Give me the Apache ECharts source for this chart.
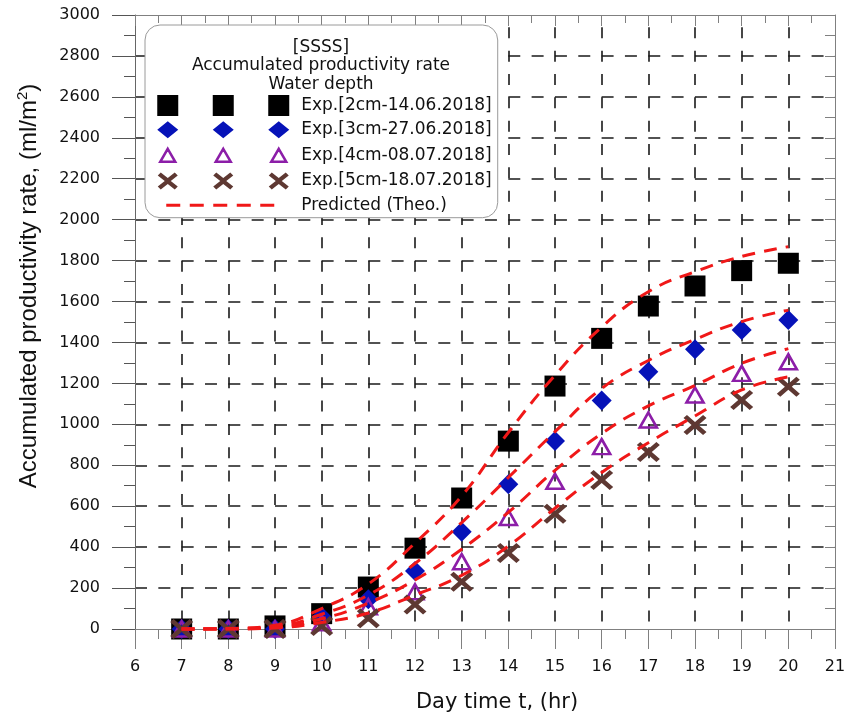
<!DOCTYPE html>
<html>
<head>
<meta charset="utf-8">
<title>Accumulated productivity rate</title>
<script src="https://cdn.jsdelivr.net/npm/echarts@6/dist/echarts.min.js"></script>
<style>
  html, body { margin: 0; padding: 0; background: #fff; }
  #chart { width: 844px; height: 719px; }
</style>
</head>
<body>
<div id="chart"></div>
<script>
var hours = [7, 8, 9, 10, 11, 12, 13, 14, 15, 16, 17, 18, 19, 20];

// measured points
var exp2cm = [0, 0, 15, 75, 205, 395, 640, 918, 1187, 1420, 1578, 1676, 1751, 1787];
var exp3cm = [0, 0, 0, 60, 145, 283, 475, 707, 918, 1116, 1257, 1367, 1461, 1510];
var exp4cm = [0, 0, 0, 30, 109, 182, 329, 545, 722, 891, 1021, 1143, 1249, 1306];
var exp5cm = [0, 0, 0, 15, 52, 120, 231, 371, 563, 728, 865, 997, 1119, 1184];

// predicted (theo.) curves
var theo2cm = [0, 3, 18, 100, 220, 420, 650, 960, 1240, 1475, 1648, 1746, 1820, 1868];
var theo3cm = [0, 2, 12, 72, 166, 320, 520, 740, 964, 1175, 1312, 1415, 1502, 1558];
var theo4cm = [0, 1, 8, 50, 127, 240, 390, 570, 775, 955, 1090, 1190, 1298, 1370];
var theo5cm = [0, 0, 5, 32, 78, 166, 262, 405, 590, 765, 910, 1041, 1168, 1232];

var xTicks = { min: 6, max: 21, step: 1 };
var yTicks = { min: 0, max: 3000, step: 200 };

var legendNames = [
  'Exp.[2cm-14.06.2018]',
  'Exp.[3cm-27.06.2018]',
  'Exp.[4cm-08.07.2018]',
  'Exp.[5cm-18.07.2018]',
  'Predicted (Theo.)'
];
var legendTitle = '[SSSS]\nAccumulated productivity rate\nWater depth';
var xName = 'Day time t, (hr)';

(function () {
  var FONT = 'DejaVu Sans';
  var RED = '#f01818';
  var BLUE = '#0612b8';
  var PURPLE = '#8c1ea8';
  var BROWN = '#5e3832';
  var AXIS = '#808080';
  var X_SYMBOL = 'path://M0,3L3,0L10,7L17,0L20,3L13,10L20,17L17,20L10,13L3,20L0,17L7,10Z';

  // legend icons: three markers in a 139x21 box
  var ICON_W = 139, ICON_H = 21;
  var CENTERS = [10.5, 66, 121.5];
  var FRAME = ' M0,0 M' + ICON_W + ',' + ICON_H;

  function iconOf(shape) {
    return 'path://' + CENTERS.map(shape).join(' ') + FRAME;
  }
  function squareAt(cx) {
    return 'M' + (cx - 10.5) + ',0H' + (cx + 10.5) + 'V21H' + (cx - 10.5) + 'Z';
  }
  function diamondAt(cx) {
    return 'M' + cx + ',2L' + (cx + 10.5) + ',10.5L' + cx + ',19L' + (cx - 10.5) + ',10.5Z';
  }
  function triangleAt(cx) {
    return 'M' + cx + ',4L' + (cx + 7.5) + ',17L' + (cx - 7.5) + ',17Z';
  }
  function crossAt(cx) {
    var x0 = cx - 10, y0 = 2, w = 20, h = 17, t = 3;
    var pts = [[0, t], [t, 0], [w / 2, h / 2 - t], [w - t, 0], [w, t], [w / 2 + t, h / 2],
      [w, h - t], [w - t, h], [w / 2, h / 2 + t], [t, h], [0, h - t], [w / 2 - t, h / 2]];
    return 'M' + pts.map(function (p) { return (x0 + p[0]) + ',' + (y0 + p[1]); }).join('L') + 'Z';
  }
  var dashIcon = 'path://' + [9, 32.5, 56, 79.5, 103].map(function (x) {
    return 'M' + x + ',9H' + (x + 14) + 'V12H' + x + 'Z';
  }).join(' ') + FRAME;

  function pairs(values) {
    return hours.map(function (h, i) { return [h, values[i]]; });
  }

  function expSeries(name, values, symbol, size, itemStyle) {
    itemStyle.opacity = 1;
    return {
      name: name, type: 'scatter', data: pairs(values),
      symbol: symbol, symbolSize: size, itemStyle: itemStyle, z: 3,
      emphasis: { disabled: true }
    };
  }

  function theoSeries(values) {
    return {
      name: legendNames[4], type: 'line', data: pairs(values),
      smooth: 0.45, showSymbol: false, symbol: 'none', clip: false, z: 5,
      itemStyle: { color: RED },
      lineStyle: { color: RED, width: 3, type: [13, 9] },
      emphasis: { disabled: true }
    };
  }

  var dashedGrid = { show: true, showMinLine: false, showMaxLine: false };

  var chart = echarts.init(document.getElementById('chart'), null, { renderer: 'canvas' });
  chart.setOption({
    backgroundColor: '#fff',
    animation: false,
    textStyle: { fontFamily: FONT },
    grid: { left: 135, right: 9, top: 15, bottom: 90, containLabel: false, outerBoundsMode: 'none' },
    title: {
      text: legendTitle,
      left: 321, top: 38, padding: 0, textAlign: 'center', z: 8,
      textStyle: { fontFamily: FONT, fontSize: 17, fontWeight: 'normal', lineHeight: 18.7, color: '#111' }
    },
    legend: {
      left: 145, top: 25, orient: 'vertical', selectedMode: false, z: 6,
      padding: [70, 6, 2, 11],
      itemWidth: ICON_W, itemHeight: ICON_H, itemGap: 3.3,
      backgroundColor: '#fff', borderColor: '#9a9a9a', borderWidth: 1, borderRadius: 15,
      textStyle: { fontFamily: FONT, fontSize: 17, color: '#111' },
      data: [
        { name: legendNames[0], icon: iconOf(squareAt), itemStyle: { color: '#000', borderWidth: 0, opacity: 1 } },
        { name: legendNames[1], icon: iconOf(diamondAt), itemStyle: { color: BLUE, borderWidth: 0, opacity: 1 } },
        { name: legendNames[2], icon: iconOf(triangleAt), itemStyle: { color: 'rgba(0,0,0,0)', borderColor: PURPLE, borderWidth: 2.5, opacity: 1 } },
        { name: legendNames[3], icon: iconOf(crossAt), itemStyle: { color: BROWN, borderWidth: 0, opacity: 1 } },
        { name: legendNames[4], icon: dashIcon, itemStyle: { color: RED, borderWidth: 0, opacity: 1 } }
      ]
    },
    xAxis: [{
      type: 'value', position: 'bottom',
      min: xTicks.min, max: xTicks.max, interval: xTicks.step,
      name: xName, nameLocation: 'middle', nameGap: 63, nameMoveOverlap: false,
      nameTextStyle: { fontFamily: FONT, fontSize: 21, color: '#111', padding: [0, 0, 0, 24] },
      axisLine: { show: true, onZero: false, lineStyle: { color: AXIS, width: 1 } },
      axisTick: { show: true, inside: false, length: 20, lineStyle: { color: AXIS } },
      minorTick: { show: true, splitNumber: 2, length: 10, lineStyle: { color: AXIS } },
      axisLabel: { margin: 30, fontFamily: FONT, fontSize: 16, color: '#111', formatter: function (v) { return String(v); } },
      splitLine: Object.assign({ lineStyle: { color: '#1a1a1a', width: 1.6, type: [11, 12.33], dashOffset: 11 } }, dashedGrid)
    }, {
      type: 'value', position: 'top',
      min: xTicks.min, max: xTicks.max, interval: xTicks.step,
      axisLine: { show: true, onZero: false, lineStyle: { color: AXIS, width: 1 } },
      axisTick: { show: true, inside: true, length: 11, lineStyle: { color: AXIS } },
      minorTick: { show: true, splitNumber: 2, length: 8, lineStyle: { color: AXIS } },
      axisLabel: { show: false },
      splitLine: { show: false }
    }],
    yAxis: [{
      type: 'value', position: 'left',
      min: yTicks.min, max: yTicks.max, interval: yTicks.step,
      name: '{a|Accumulated productivity rate, (ml/m}{s|2}{a|)}',
      nameLocation: 'middle', nameRotate: 90, nameGap: 92, nameMoveOverlap: false,
      nameTextStyle: {
        padding: [0, 0, 0, 72],
        rich: {
          a: { fontFamily: 'Liberation Sans', fontSize: 24, lineHeight: 28, color: '#111' },
          s: { fontFamily: 'Liberation Sans', fontSize: 15, lineHeight: 15, verticalAlign: 'top', color: '#111' }
        }
      },
      axisLine: { show: true, onZero: false, lineStyle: { color: '#666', width: 1 } },
      axisTick: { show: true, inside: false, length: 23, lineStyle: { color: '#555' } },
      minorTick: { show: true, splitNumber: 2, length: 11, lineStyle: { color: '#555' } },
      axisLabel: { margin: 35, fontFamily: FONT, fontSize: 16, color: '#111', formatter: function (v) { return String(v); } },
      splitLine: Object.assign({ lineStyle: { color: '#1a1a1a', width: 1.6, type: [12, 11.33] } }, dashedGrid)
    }, {
      type: 'value', position: 'right',
      min: yTicks.min, max: yTicks.max, interval: yTicks.step,
      axisLine: { show: true, onZero: false, lineStyle: { color: AXIS, width: 1 } },
      axisTick: { show: true, inside: true, length: 10, lineStyle: { color: AXIS } },
      minorTick: { show: true, splitNumber: 2, length: 10, lineStyle: { color: AXIS } },
      axisLabel: { show: false },
      splitLine: { show: false }
    }],
    series: [
      expSeries(legendNames[0], exp2cm, 'rect', 21, { color: '#000' }),
      expSeries(legendNames[1], exp3cm, 'diamond', [20, 20], { color: BLUE }),
      expSeries(legendNames[2], exp4cm, 'triangle', [17, 15], { color: 'rgba(0,0,0,0)', borderColor: PURPLE, borderWidth: 2.6 }),
      expSeries(legendNames[3], exp5cm, X_SYMBOL, [23, 20], { color: BROWN }),
      theoSeries(theo2cm),
      theoSeries(theo3cm),
      theoSeries(theo4cm),
      theoSeries(theo5cm)
    ]
  });

  window.addEventListener('resize', function () { chart.resize(); });
})();
</script>
</body>
</html>
